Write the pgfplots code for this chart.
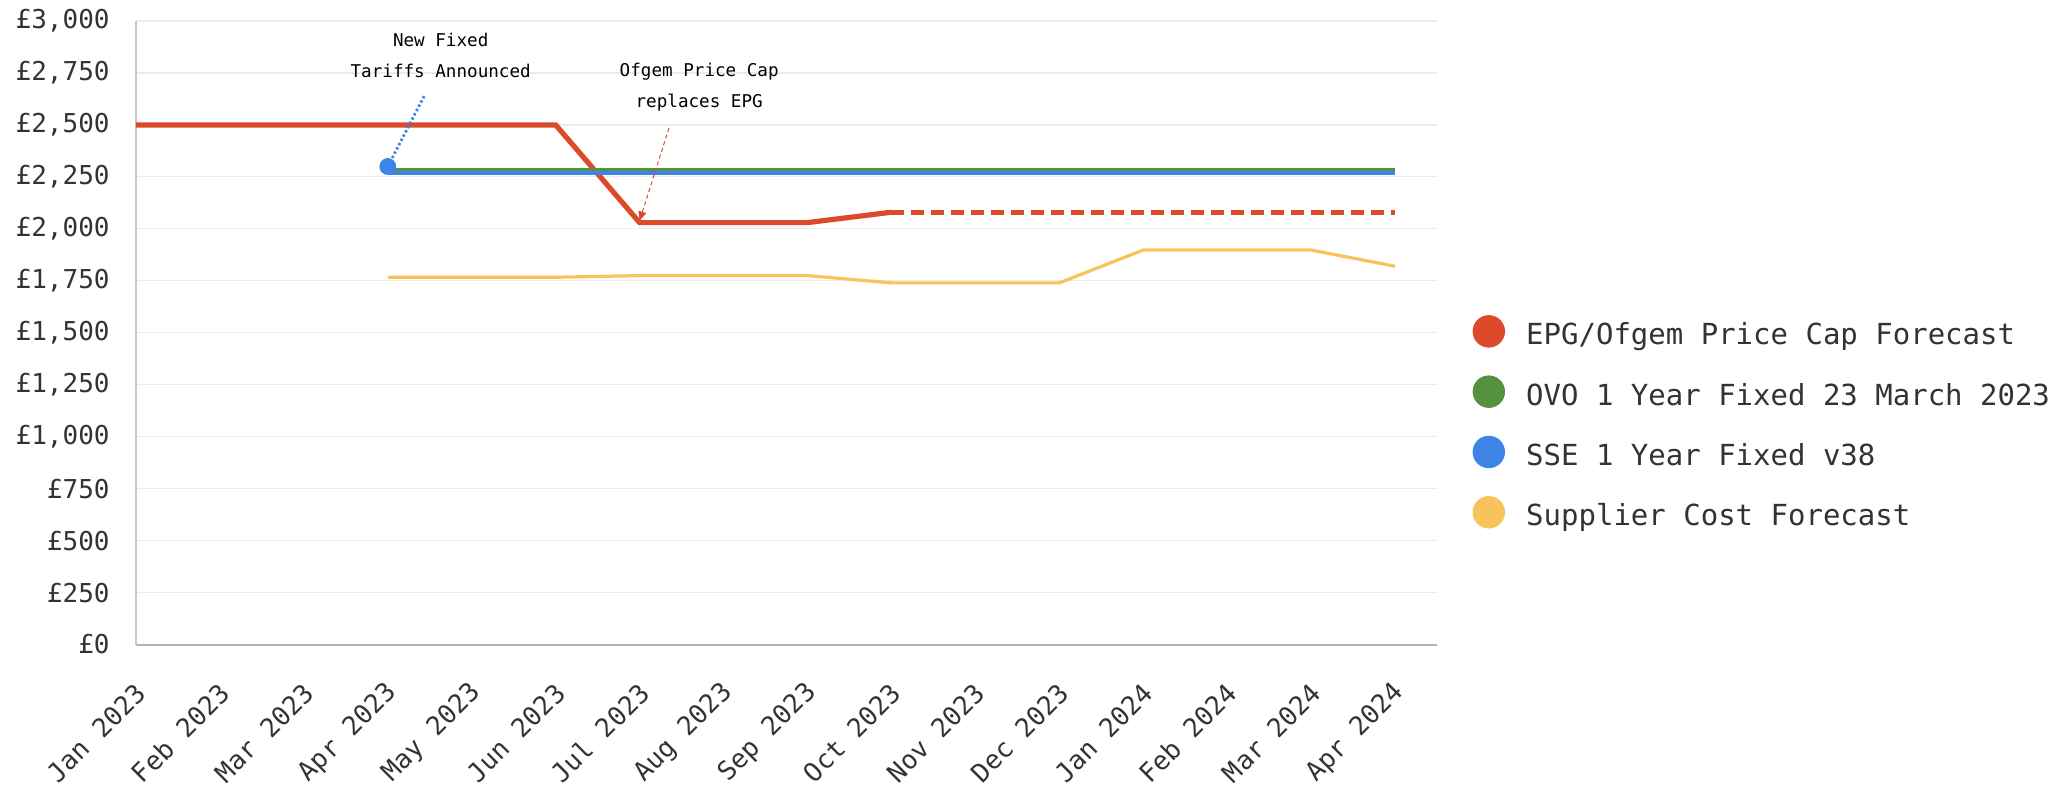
\documentclass[border=0pt]{standalone}
\usepackage{fontspec}
\setmainfont{DejaVu Sans Mono}
\usepackage{pgfplots}
\pgfplotsset{compat=1.18}
\usetikzlibrary{arrows.meta}
\definecolor{cRed}{HTML}{DC4A2C}
\definecolor{cGreen}{HTML}{55913F}
\definecolor{cBlue}{HTML}{3E84E6}
\definecolor{cYellow}{HTML}{F7C35C}
\definecolor{cGrid}{HTML}{EBEBEB}
\definecolor{cAxis}{HTML}{C8C8C8}
\definecolor{cText}{HTML}{333333}
\begin{document}
\begin{tikzpicture}
\path[use as bounding box] (-68pt,-71.25pt) rectangle (967.5pt,322.25pt);
\begin{axis}[
  at={(0,0)}, anchor=south west,
  scale only axis, width=650.5pt, height=311.75pt,
  xmin=0, xmax=15.5, ymin=0, ymax=3000,
  axis x line*=bottom, axis y line*=left,
  x axis line style={draw=cAxis!90!black, line width=1pt},
  y axis line style={draw=cAxis, line width=0.8pt},
  ytick={0,250,...,3000}, ymajorgrids,
  grid style={cGrid, line width=0.6pt},
  major tick length=0pt,
  scaled y ticks=false,
  xtick={0,...,15},
  xticklabels={Jan 2023,Feb 2023,Mar 2023,Apr 2023,May 2023,Jun 2023,Jul 2023,Aug 2023,Sep 2023,Oct 2023,Nov 2023,Dec 2023,Jan 2024,Feb 2024,Mar 2024,Apr 2024},
  /pgf/number format/assume math mode=true,
  /pgf/number format/1000 sep={,},
  yticklabel={£\pgfmathprintnumber{\tick}},
  tick label style={font=\fontsize{13}{15}\selectfont, text=cText},
  yticklabel style={inner sep=0pt, xshift=-13pt},
  xticklabel style={inner sep=0pt, xshift=2.5pt, yshift=-22pt, rotate=45, anchor=east},
  clip=false,
  legend style={at={(1,0.3545)}, anchor=west, xshift=17.6pt, draw=none, fill=none, inner sep=0pt,
    row sep=12.3pt, font=\fontsize{14.5}{17}\selectfont, text=cText,
    nodes={inner sep=0pt, text height=10.5pt, text depth=3pt, anchor=west}},
  legend cell align=left,
]
\addplot[cRed, line width=2.6pt, forget plot] coordinates {(0,2500)(1,2500)(2,2500)(3,2500)(4,2500)(5,2500)(6,2030)(7,2030)(8,2030)(9,2080)};
\addplot[cRed, line width=2.6pt, dash pattern=on 6.5pt off 3.5pt, forget plot] coordinates {(9,2080)(10,2080)(11,2080)(12,2080)(13,2080)(14,2080)(15,2080)};
\addplot[cGreen, line width=2.2pt, forget plot] coordinates {(3,2282)(15,2282)};
\addplot[cBlue, line width=2.2pt, forget plot] coordinates {(3,2268)(15,2268)};
\addplot[cYellow, line width=1.6pt, forget plot] coordinates {(3,1767)(4,1767)(5,1767)(6,1775)(7,1775)(8,1775)(9,1740)(10,1740)(11,1740)(12,1898)(13,1898)(14,1898)(15,1820)};
% annotations
\addplot[cBlue, line width=1.4pt, dash pattern=on 1.2pt off 1.2pt, forget plot] coordinates {(3,2300)(3.44,2644)};
\addplot[cBlue, only marks, mark=*, mark size=4pt, forget plot] coordinates {(3,2300)};
\addplot[cRed, line width=0.5pt, dash pattern=on 2pt off 1.5pt, -{Triangle[length=4.5pt,width=4pt]}, forget plot] coordinates {(6.35,2485)(6.0,2040)};
\node[font=\fontsize{8.8}{10}\selectfont] at (axis cs:3.63,2911) {New Fixed};
\node[font=\fontsize{8.8}{10}\selectfont] at (axis cs:3.63,2758) {Tariffs Announced};
\node[font=\fontsize{8.8}{10}\selectfont] at (axis cs:6.71,2758) {Ofgem Price Cap};
\node[font=\fontsize{8.8}{10}\selectfont] at (axis cs:6.71,2606) {replaces EPG};
% legend
\addlegendimage{legend image code/.code={\path (0,0) (26.4pt,0); \fill[cRed] (7.9pt,0.3em) circle (7.9pt);}}
\addlegendentry{EPG/Ofgem Price Cap Forecast}
\addlegendimage{legend image code/.code={\path (0,0) (26.4pt,0); \fill[cGreen] (7.9pt,0.3em) circle (7.9pt);}}
\addlegendentry{OVO 1 Year Fixed 23 March 2023}
\addlegendimage{legend image code/.code={\path (0,0) (26.4pt,0); \fill[cBlue] (7.9pt,0.3em) circle (7.9pt);}}
\addlegendentry{SSE 1 Year Fixed v38}
\addlegendimage{legend image code/.code={\path (0,0) (26.4pt,0); \fill[cYellow] (7.9pt,0.3em) circle (7.9pt);}}
\addlegendentry{Supplier Cost Forecast}
\end{axis}
\end{tikzpicture}
\end{document}
